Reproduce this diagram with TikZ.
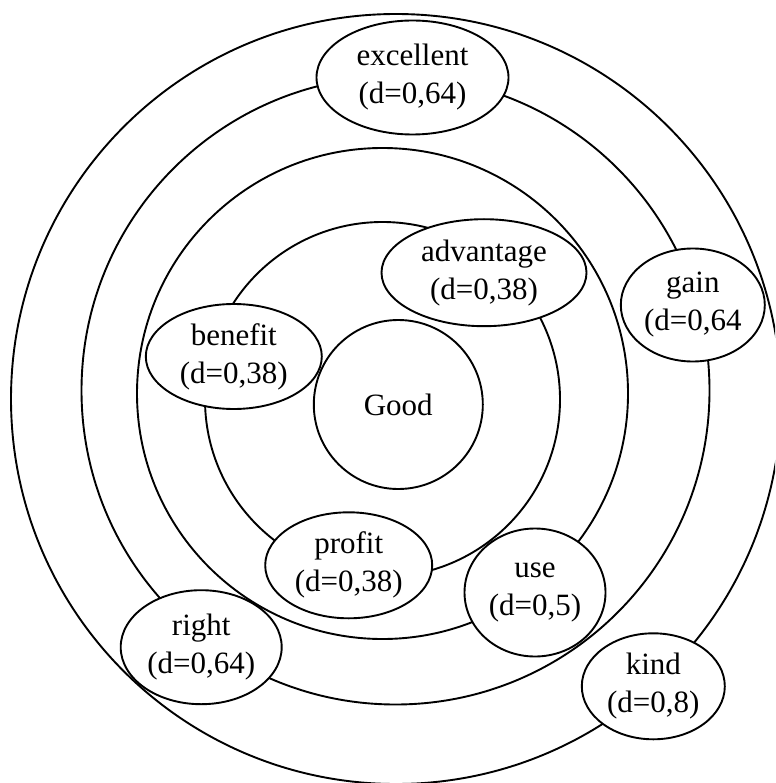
\documentclass[tikz,border=0pt]{standalone}
\usepackage{fontspec}
\setmainfont{Liberation Serif}
\usetikzlibrary{shapes}

\begin{document}
\begin{tikzpicture}[x=1pt, y=-1pt]
	\tikzstyle{ring}=[draw, line width=1.9pt]
	\tikzstyle{word}=[ellipse, draw, line width=1.9pt, fill=white,
		inner sep=0pt, align=center, font=\fontsize{31}{38}\selectfont]
	\tikzstyle{core}=[word, circle]

	\clip (0,0) rectangle (775,783);

	% rings, outermost first
	\draw[ring] (396,399) circle[radius=385];
	\draw[ring] (395.5,390.5) circle[radius=314];
	\draw[ring] (382.5,393.5) circle[radius=245.5];
	\draw[ring] (382.5,399.5) circle[radius=177.5];

	\node[core, minimum size=169pt] (good) at (398.3,404.5) {Good};

	\node[word, minimum width=176pt, minimum height=105pt] (benefit)
		at (233.8,356.5) {benefit\\(d=0,38)};
	\node[word, minimum width=205pt, minimum height=107pt] (advantage)
		at (484,272.7) {advantage\\(d=0,38)};
	\node[word, minimum width=167pt, minimum height=106pt] (profit)
		at (348.7,565.3) {profit\\(d=0,38)};
	\node[word, minimum width=141pt, minimum height=128pt] (use)
		at (535,592.5) {use\\(d=0,5)};
	\node[word, minimum width=192pt, minimum height=114pt] (excellent)
		at (412.5,77.5) {excellent\\(d=0,64)};
	\node[word, minimum width=144pt, minimum height=113pt] (gain)
		at (692.8,305) {gain\\(d=0,64};
	\node[word, minimum width=161pt, minimum height=114pt] (right)
		at (201.2,647.2) {right\\(d=0,64)};
	\node[word, minimum width=143pt, minimum height=106pt] (kind)
		at (653.3,686.3) {kind\\(d=0,8)};
\end{tikzpicture}
\end{document}
